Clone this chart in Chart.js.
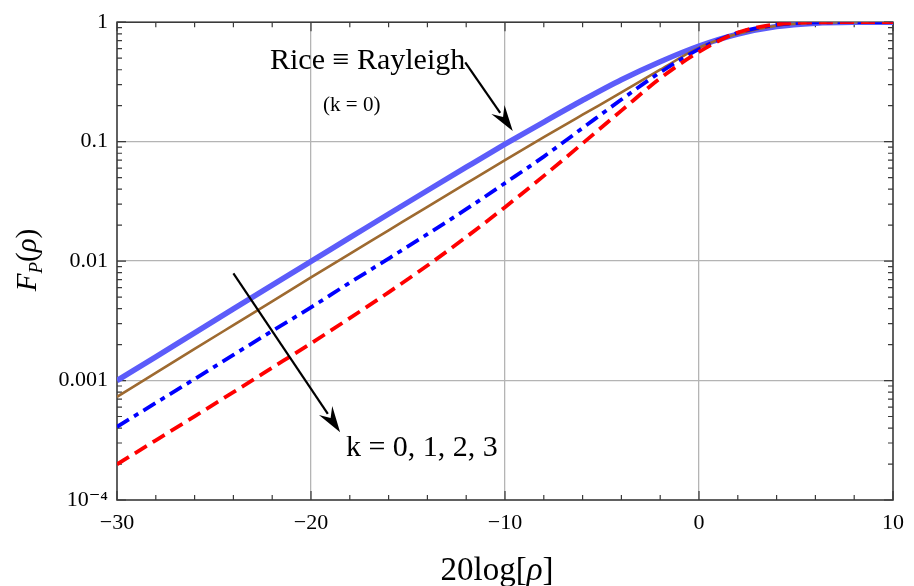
<!DOCTYPE html>
<html>
<head>
<meta charset="utf-8">
<script src="https://cdn.jsdelivr.net/npm/chart.js@4.4.1/dist/chart.umd.min.js"></script>
<style>
    body { margin: 0; background: #fff; }
    #wrap { width: 914px; height: 586px; }
</style>
</head>
<body>
<div id="wrap"><canvas id="cdfChart" width="914" height="586"></canvas></div>
<script>
// 20log[rho] sample points (dB)
const xDb = [-30, -28, -26, -24, -22, -20, -18, -16, -14, -12, -10, -8, -6, -4, -2, 0, 2, 4, 6, 8, 10];

// F_P(rho), one array per k
const fK0 = [0.001, 0.00158, 0.00251, 0.00398, 0.0063, 0.00995, 0.0157, 0.0248, 0.039, 0.0611, 0.0952, 0.146, 0.222, 0.33, 0.467, 0.632, 0.795, 0.919, 0.981, 0.998, 1.0];
const fK1 = [0.00073, 0.00116, 0.00184, 0.00291, 0.0046, 0.0073, 0.0115, 0.0181, 0.0285, 0.0447, 0.070, 0.109, 0.168, 0.258, 0.40, 0.612, 0.8, 0.935, 0.99, 0.999, 1.0];
const fK2 = [0.00041, 0.00065, 0.00103, 0.00164, 0.0026, 0.0041, 0.0066, 0.0105, 0.0168, 0.0272, 0.045, 0.075, 0.13, 0.225, 0.38, 0.595, 0.815, 0.95, 0.995, 1.0, 1.0];
const fK3 = [0.000199, 0.000316, 0.000502, 0.000800, 0.00128, 0.00205, 0.00333, 0.00548, 0.00918, 0.0159, 0.0283, 0.0517, 0.0967, 0.182, 0.339, 0.565, 0.82, 0.96, 0.997, 1.0, 1.0];

const seriesLabels = ['k = 0 (Rayleigh)', 'k = 1', 'k = 2', 'k = 3'];
const xTickLabels = ['\u221230', '\u221220', '\u221210', '0', '10'];
const yTickLabels = ['10\u207B\u2074', '0.001', '0.01', '0.1', '1'];

const SERIF = '"Liberation Serif", "DejaVu Serif", serif';

function pairs(ys) {
    return xDb.map((x, i) => ({ x: x, y: ys[i] }));
}

function isDecade(v) {
    const l = Math.log10(v);
    return Math.abs(l - Math.round(l)) < 1e-6;
}

// draw a run of text pieces with mixed fonts, centred on x
function drawParts(c, parts, x, y) {
    let w = 0;
    parts.forEach(p => { c.font = p.f; w += c.measureText(p.t).width; });
    let cx = x - w / 2;
    c.textAlign = 'left';
    parts.forEach(p => {
        c.font = p.f;
        c.fillText(p.t, cx, y + (p.dy || 0));
        cx += c.measureText(p.t).width;
    });
}

// filled arrow with a notched back, like the original
function arrow(c, x1, y1, x2, y2) {
    const ang = Math.atan2(y2 - y1, x2 - x1);
    const len = 26, half = 8, notch = 9;
    c.save();
    c.strokeStyle = '#000';
    c.fillStyle = '#000';
    c.lineWidth = 2.2;
    c.beginPath();
    c.moveTo(x1, y1);
    c.lineTo(x2 - Math.cos(ang) * (len - 4), y2 - Math.sin(ang) * (len - 4));
    c.stroke();
    c.translate(x2, y2);
    c.rotate(ang);
    c.beginPath();
    c.moveTo(0, 0);
    c.lineTo(-len, -half);
    c.lineTo(-len + notch, 0);
    c.lineTo(-len, half);
    c.closePath();
    c.fill();
    c.restore();
}

// Frame, inside ticks, titles and annotations
const decorations = {
    id: 'decorations',
    beforeDatasetsDraw(chart) {
        const c = chart.ctx;
        const a = chart.chartArea;
        const xs = chart.scales.x, ys = chart.scales.y;
        c.save();
        c.strokeStyle = '#3a3a3a';
        c.lineWidth = 1.2;
        xs.ticks.forEach(t => {
            const px = xs.getPixelForValue(t.value);
            const l = t.value % 10 === 0 ? 9 : 5;
            c.beginPath();
            c.moveTo(px, a.bottom); c.lineTo(px, a.bottom - l);
            c.moveTo(px, a.top); c.lineTo(px, a.top + l);
            c.stroke();
        });
        ys.ticks.forEach(t => {
            const py = ys.getPixelForValue(t.value);
            const l = isDecade(t.value) ? 9 : 5;
            c.beginPath();
            c.moveTo(a.left, py); c.lineTo(a.left + l, py);
            c.moveTo(a.right, py); c.lineTo(a.right - l, py);
            c.stroke();
        });
        c.lineWidth = 1.6;
        c.strokeRect(a.left, a.top, a.right - a.left, a.bottom - a.top);
        c.restore();
    },
    afterDatasetsDraw(chart) {
        const c = chart.ctx;
        const xs = chart.scales.x, ys = chart.scales.y;
        const px = v => xs.getPixelForValue(v);
        const py = v => ys.getPixelForValue(v);
        c.save();
        c.fillStyle = '#000';
        c.textBaseline = 'alphabetic';

        // x title
        drawParts(c, [
            { t: '20log[', f: '33px ' + SERIF },
            { t: '\u03C1', f: 'italic 33px ' + SERIF },
            { t: ']', f: '33px ' + SERIF }
        ], 497, 580);

        // y title F_P(rho), rotated
        c.save();
        c.translate(26, 260);
        c.rotate(-Math.PI / 2);
        drawParts(c, [
            { t: 'F', f: 'italic 29px ' + SERIF },
            { t: 'P', f: 'italic 19px ' + SERIF, dy: 6 },
            { t: '(', f: '29px ' + SERIF },
            { t: '\u03C1', f: 'italic 29px ' + SERIF },
            { t: ')', f: '29px ' + SERIF }
        ], 0, 10);
        c.restore();

        // annotations
        c.font = '30px ' + SERIF;
        c.textAlign = 'right';
        c.textBaseline = 'middle';
        c.fillText('Rice \u2261 Rayleigh', px(-12.05), py(0.47));
        c.font = '21px ' + SERIF;
        c.textAlign = 'center';
        c.fillText('(k = 0)', px(-17.9), py(0.2));
        c.font = '30px ' + SERIF;
        c.textAlign = 'left';
        c.fillText('k = 0, 1, 2, 3', px(-18.2), py(0.00027));

        arrow(c, px(-12.05), py(0.46), px(-9.6), py(0.123));
        arrow(c, px(-24.0), py(0.0079), px(-18.5), py(0.00037));
        c.restore();
    }
};

const chartCtx = document.getElementById('cdfChart').getContext('2d');
new Chart(chartCtx, {
    type: 'line',
    data: {
        datasets: [
            {
                label: seriesLabels[0],
                data: pairs(fK0),
                borderColor: 'rgb(92, 92, 250)',
                borderWidth: 5.5,
                order: 3
            },
            {
                label: seriesLabels[1],
                data: pairs(fK1),
                borderColor: 'rgb(158, 106, 48)',
                borderWidth: 2.6,
                order: 2
            },
            {
                label: seriesLabels[2],
                data: pairs(fK2),
                borderColor: '#0000ff',
                borderWidth: 3.8,
                borderDash: [14, 6, 5, 6],
                order: 1
            },
            {
                label: seriesLabels[3],
                data: pairs(fK3),
                borderColor: '#ff0000',
                borderWidth: 3.8,
                borderDash: [14, 7],
                order: 0
            }
        ]
    },
    options: {
        responsive: false,
        animation: false,
        layout: { padding: { top: 18, right: 17, left: 0, bottom: 0 } },
        elements: {
            point: { radius: 0 },
            line: { cubicInterpolationMode: 'monotone', fill: false }
        },
        plugins: {
            legend: { display: false },
            tooltip: { enabled: false }
        },
        scales: {
            x: {
                type: 'linear',
                min: -30,
                max: 10,
                afterFit: s => { s.height = 86; },
                border: { display: false },
                grid: {
                    drawTicks: false,
                    color: c => (c.tick && c.tick.value % 10 === 0 && c.tick.value > -30 && c.tick.value < 10) ? '#b4b4b4' : 'rgba(0,0,0,0)',
                    lineWidth: 1.3
                },
                ticks: {
                    stepSize: 2,
                    autoSkip: false,
                    maxRotation: 0,
                    padding: 10,
                    color: '#000',
                    font: { family: SERIF, size: 22 },
                    callback: v => v % 10 === 0 ? xTickLabels[(v + 30) / 10] : ''
                }
            },
            y: {
                type: 'logarithmic',
                min: 0.0001,
                max: 1,
                afterFit: s => { s.width = 117; },
                afterBuildTicks: s => {
                    const t = [];
                    for (let e = -4; e <= 0; e++) {
                        for (let m = 1; m <= 9; m++) {
                            const v = Number((m * Math.pow(10, e)).toPrecision(3));
                            if (v <= 1) t.push({ value: v });
                        }
                    }
                    s.ticks = t;
                },
                border: { display: false },
                grid: {
                    drawTicks: false,
                    color: c => (c.tick && isDecade(c.tick.value) && c.tick.value < 0.5 && c.tick.value > 0.0002) ? '#b4b4b4' : 'rgba(0,0,0,0)',
                    lineWidth: 1.3
                },
                ticks: {
                    autoSkip: false,
                    padding: 9,
                    color: '#000',
                    font: { family: SERIF, size: 22 },
                    callback: v => isDecade(v) ? yTickLabels[Math.round(Math.log10(v)) + 4] : ''
                }
            }
        }
    },
    plugins: [decorations]
});
</script>
</body>
</html>
